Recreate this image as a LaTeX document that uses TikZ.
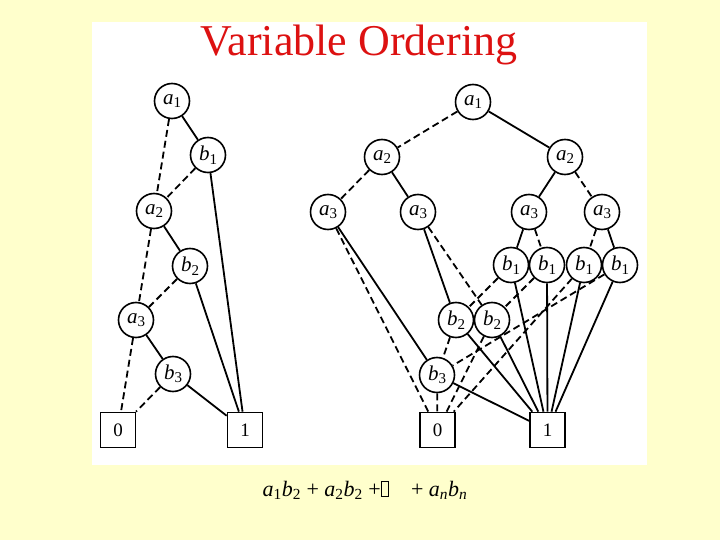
\documentclass[tikz,border=0pt]{standalone}
\usepackage{fontspec}
\setmainfont{Liberation Serif}
\usetikzlibrary{backgrounds}
\definecolor{bgyellow}{HTML}{FFFFCC}
\definecolor{titlered}{HTML}{DD1111}
\newcommand{\vlab}[2]{\textit{#1}\raisebox{-3.5pt}{\fontsize{15}{15}\selectfont #2}}
\tikzset{
  vnode/.style={circle, draw, line width=1.6pt, fill=white, minimum size=35pt, inner sep=0pt, font=\fontsize{21}{21}\selectfont},
  tnode/.style={rectangle, draw, line width=1.6pt, fill=white, minimum size=35pt, inner sep=0pt, font=\fontsize{19}{19}\selectfont},
  hi/.style={line width=1.8pt},
  lo/.style={line width=1.8pt, dash pattern=on 7pt off 4pt},
}
\begin{document}
\begin{tikzpicture}[x=1pt,y=-1pt]
\useasboundingbox (0,0) rectangle (720,540);
\begin{pgfonlayer}{background}
\fill[bgyellow] (0,0) rectangle (720,540);
\fill[white] (92,22) rectangle (647,465);
\end{pgfonlayer}
\node[text=titlered, font=\fontsize{44}{44}\selectfont, anchor=base] (title) at (359,56) {Variable Ordering};
% left diagram
\node[vnode] (La1) at (172,101) {\vlab{a}{1}};
\node[vnode] (Lb1) at (208,155) {\vlab{b}{1}};
\node[vnode] (La2) at (154,211) {\vlab{a}{2}};
\node[vnode] (Lb2) at (190,266) {\vlab{b}{2}};
\node[vnode] (La3) at (136,320) {\vlab{a}{3}};
\node[vnode] (Lb3) at (173,374) {\vlab{b}{3}};
\node[tnode] (L0) at (118,430) {0};
\node[tnode] (L1) at (245,430) {1};
% right diagram
\node[vnode] (Ra1) at (473,102) {\vlab{a}{1}};
\node[vnode] (Ra2l) at (382,157) {\vlab{a}{2}};
\node[vnode] (Ra2r) at (565,157) {\vlab{a}{2}};
\node[vnode] (Ra3a) at (328,212) {\vlab{a}{3}};
\node[vnode] (Ra3b) at (418,212) {\vlab{a}{3}};
\node[vnode] (Ra3c) at (529,212) {\vlab{a}{3}};
\node[vnode] (Ra3d) at (602,212) {\vlab{a}{3}};
\node[vnode] (Rb1a) at (511,265) {\vlab{b}{1}};
\node[vnode] (Rb1b) at (547,265) {\vlab{b}{1}};
\node[vnode] (Rb1c) at (584,265) {\vlab{b}{1}};
\node[vnode] (Rb1d) at (620,265) {\vlab{b}{1}};
\node[vnode] (Rb2a) at (456,320) {\vlab{b}{2}};
\node[vnode] (Rb2b) at (492,320) {\vlab{b}{2}};
\node[vnode] (Rb3) at (437,375) {\vlab{b}{3}};
\node[tnode] (R0) at (437.5,430) {0};
\node[tnode] (R1) at (547.5,430) {1};
\begin{pgfonlayer}{background}
\draw[hi] (La1) -- (Lb1);
\draw[lo] (La1) -- (La2);
\draw[lo] (Lb1) -- (La2);
\draw[hi] (Lb1) -- (L1);
\draw[hi] (La2) -- (Lb2);
\draw[lo] (La2) -- (La3);
\draw[lo] (Lb2) -- (La3);
\draw[hi] (Lb2) -- (L1);
\draw[hi] (La3) -- (Lb3);
\draw[lo] (La3) -- (L0);
\draw[lo] (Lb3) -- (L0);
\draw[hi] (Lb3) -- (L1);
\draw[lo] (Ra1) -- (Ra2l);
\draw[hi] (Ra1) -- (Ra2r);
\draw[lo] (Ra2l) -- (Ra3a);
\draw[hi] (Ra2l) -- (Ra3b);
\draw[hi] (Ra2r) -- (Ra3c);
\draw[lo] (Ra2r) -- (Ra3d);
\draw[lo] (Ra3a) -- (R0);
\draw[hi] (Ra3a) -- (Rb3);
\draw[hi] (Ra3b) -- (Rb2a);
\draw[lo] (Ra3b) -- (Rb2b);
\draw[hi] (Ra3c) -- (Rb1a);
\draw[lo] (Ra3c) -- (Rb1b);
\draw[lo] (Ra3d) -- (Rb1c);
\draw[hi] (Ra3d) -- (Rb1d);
\draw[lo] (Rb1a) -- (Rb2a);
\draw[lo] (Rb1b) -- (Rb2b);
\draw[lo] (Rb1c) -- (R0);
\draw[lo] (Rb1d) -- (Rb3);
\draw[hi] (Rb1a) -- (R1);
\draw[hi] (Rb1b) -- (R1);
\draw[hi] (Rb1c) -- (R1);
\draw[hi] (Rb1d) -- (R1);
\draw[lo] (Rb2a) -- (Rb3);
\draw[lo] (Rb2b) -- (R0);
\draw[hi] (Rb2a) -- (R1);
\draw[hi] (Rb2b) -- (R1);
\draw[lo] (Rb3) -- (R0);
\draw[hi] (Rb3) -- (R1);
\end{pgfonlayer}
% formula
\node[font=\fontsize{22}{22}\selectfont, anchor=base] (formula) at (365,496)
  {\textit{a}\textsubscript{1}\textit{b}\textsubscript{2} + \textit{a}\textsubscript{2}\textit{b}\textsubscript{2} +{\fboxsep=0pt\fboxrule=0.6pt\raisebox{0.5pt}{\fbox{\rule{0pt}{14pt}\hspace{7pt}}}}\quad + \textit{a}\textsubscript{\textit{n}}\textit{b}\textsubscript{\textit{n}}};
\end{tikzpicture}
\end{document}
